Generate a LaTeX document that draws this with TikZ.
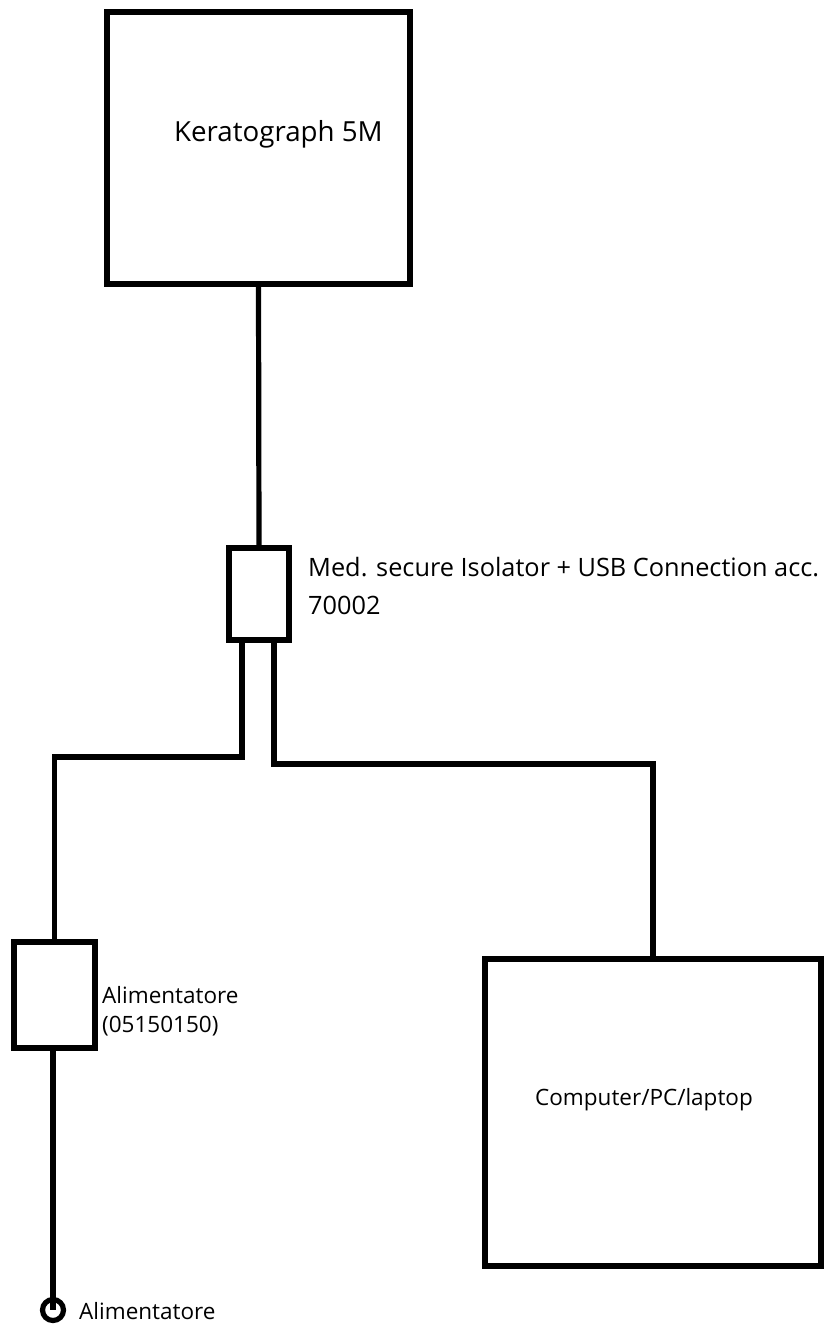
\documentclass[tikz,border=0pt]{standalone}
\usepackage{fontspec}
\setmainfont{Open Sans}
\tikzset{
  unitbox/.style={draw=black, line width=5.2pt, fill=white, inner sep=0pt},
  wire/.style={draw=black, line width=5.2pt, line join=miter},
  biglabel/.style={font=\fontsize{27.7}{33}\selectfont, anchor=base west, inner sep=0pt},
  midlabel/.style={font=\fontsize{25.3}{38}\selectfont, anchor=base west, align=left, inner sep=0pt},
  smalllabel/.style={font=\fontsize{22.5}{29}\selectfont, anchor=base west, align=left, inner sep=0pt},
}
\begin{document}
\begin{tikzpicture}[x=1pt,y=-1pt]
    \useasboundingbox (0,0) rectangle (824,1327);
    % Boxes
    \node[unitbox, minimum width=303pt, minimum height=272pt] (keratograph) at (258.5,148) {};
    \node[unitbox, minimum width=60pt, minimum height=92pt] (isolator) at (259,594) {};
    \node[unitbox, minimum width=81pt, minimum height=106pt] (supply) at (54.5,995) {};
    \node[unitbox, minimum width=336pt, minimum height=307pt] (computer) at (653,1112.5) {};
    \node[draw=black, line width=5.2pt, circle, inner sep=0pt, minimum size=21pt] (plug) at (53,1310) {};
    % Bends of the two lower cables
    \coordinate (supplyturn) at (54.5,757);
    \coordinate (computerturn) at (653,764);
    % Cables
    \draw[wire] (keratograph.south) -- (isolator.north);
    \draw[wire] ([xshift=-17pt]isolator.south) |- (supplyturn) -- (supply.north);
    \draw[wire] ([xshift=15pt]isolator.south) |- (computerturn) -- (computer.north);
    \draw[wire] (supply.south -| plug) -- (plug.center);
    % Labels
    \node[biglabel] (keratographlabel) at (174,141) {Keratograph 5M};
    \node[midlabel] (isolatorlabel) at (308,614) {Med. secure Isolator + USB Connection acc.\\70002};
    \node[smalllabel] (supplylabel) at (102,1032) {Alimentatore\\(05150150)};
    \node[smalllabel] (computerlabel) at (535,1105) {Computer/PC/laptop};
    \node[smalllabel] (pluglabel) at (79,1319) {Alimentatore};
\end{tikzpicture}
\end{document}
